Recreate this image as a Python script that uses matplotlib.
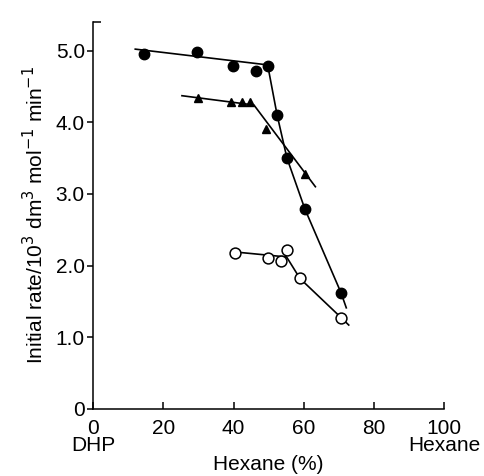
import numpy as np
import matplotlib
matplotlib.use("Agg")
import matplotlib.pyplot as plt
from matplotlib.ticker import FixedLocator

plt.rcParams['font.family'] = ['Liberation Sans', 'DejaVu Sans']

# filled circles
fc_x = [14.6, 29.6, 39.7, 46.4, 49.7, 52.4, 55.2, 60.3, 70.6]
fc_y = [4.95, 4.98, 4.79, 4.71, 4.79, 4.10, 3.50, 2.79, 1.62]
fc_line_x = [12.0, 49.7, 52.4, 55.2, 60.3, 70.6, 72.1]
fc_line_y = [5.02, 4.80, 4.10, 3.50, 2.79, 1.62, 1.41]

# triangles
tr_x = [29.9, 39.3, 42.4, 44.7, 49.2, 60.2]
tr_y = [4.34, 4.28, 4.28, 4.28, 3.90, 3.28]
tr_line_x = [25.3, 45.8, 63.3]
tr_line_y = [4.37, 4.24, 3.10]

# open circles
oc_x = [40.3, 49.7, 53.4, 55.2, 58.9, 70.7]
oc_y = [2.18, 2.10, 2.07, 2.22, 1.82, 1.27]
oc_line_x = [40.3, 55.1, 58.9, 70.7, 72.8]
oc_line_y = [2.19, 2.12, 1.82, 1.27, 1.17]

xticks = [0, 20, 40, 60, 80, 100]
xlabels = ['0\nDHP', '20', '40', '60', '80', '100\nHexane']
yticks = [0, 1, 2, 3, 4, 5]
ylabels = ['0', '1.0', '2.0', '3.0', '4.0', '5.0']

fig = plt.figure(figsize=(4.85, 4.76), dpi=100)
ax = fig.add_axes([0.192, 0.141, 0.724, 0.813])

lw = 1.2
ax.plot(fc_line_x, fc_line_y, color='black', lw=lw)
ax.plot(tr_line_x, tr_line_y, color='black', lw=lw)
ax.plot(oc_line_x, oc_line_y, color='black', lw=lw)
ax.plot(fc_x, fc_y, 'o', color='black', ms=7.5)
ax.plot(tr_x, tr_y, '^', color='black', ms=5.5)
ax.plot(oc_x, oc_y, 'o', mfc='white', mec='black', mew=1.1, ms=7.8)

ax.set_xlim(0, 100)
ax.set_ylim(0, 5.4)
ax.set_xticks(xticks)
ax.set_xticklabels(xlabels, fontsize=15, linespacing=0.9)
ax.set_yticks(yticks)
ax.set_yticklabels(ylabels, fontsize=15)
ax.yaxis.set_minor_locator(FixedLocator([5.4]))
ax.tick_params(axis='x', direction='in', length=5, width=1.1, pad=7)
ax.tick_params(axis='y', which='major', direction='out', length=4, width=1.1, pad=2)
ax.tick_params(axis='y', which='minor', direction='in', length=6, width=1.1)

for s in ['top', 'right']:
    ax.spines[s].set_visible(False)
for s in ['left', 'bottom']:
    ax.spines[s].set_linewidth(1.1)

ax.set_xlabel('Hexane (%)', fontsize=15, labelpad=0)
ax.set_ylabel('Initial rate/10$^3$ dm$^3$ mol$^{-1}$ min$^{-1}$', fontsize=15, labelpad=6)

fig.savefig('out.png', dpi=100)
